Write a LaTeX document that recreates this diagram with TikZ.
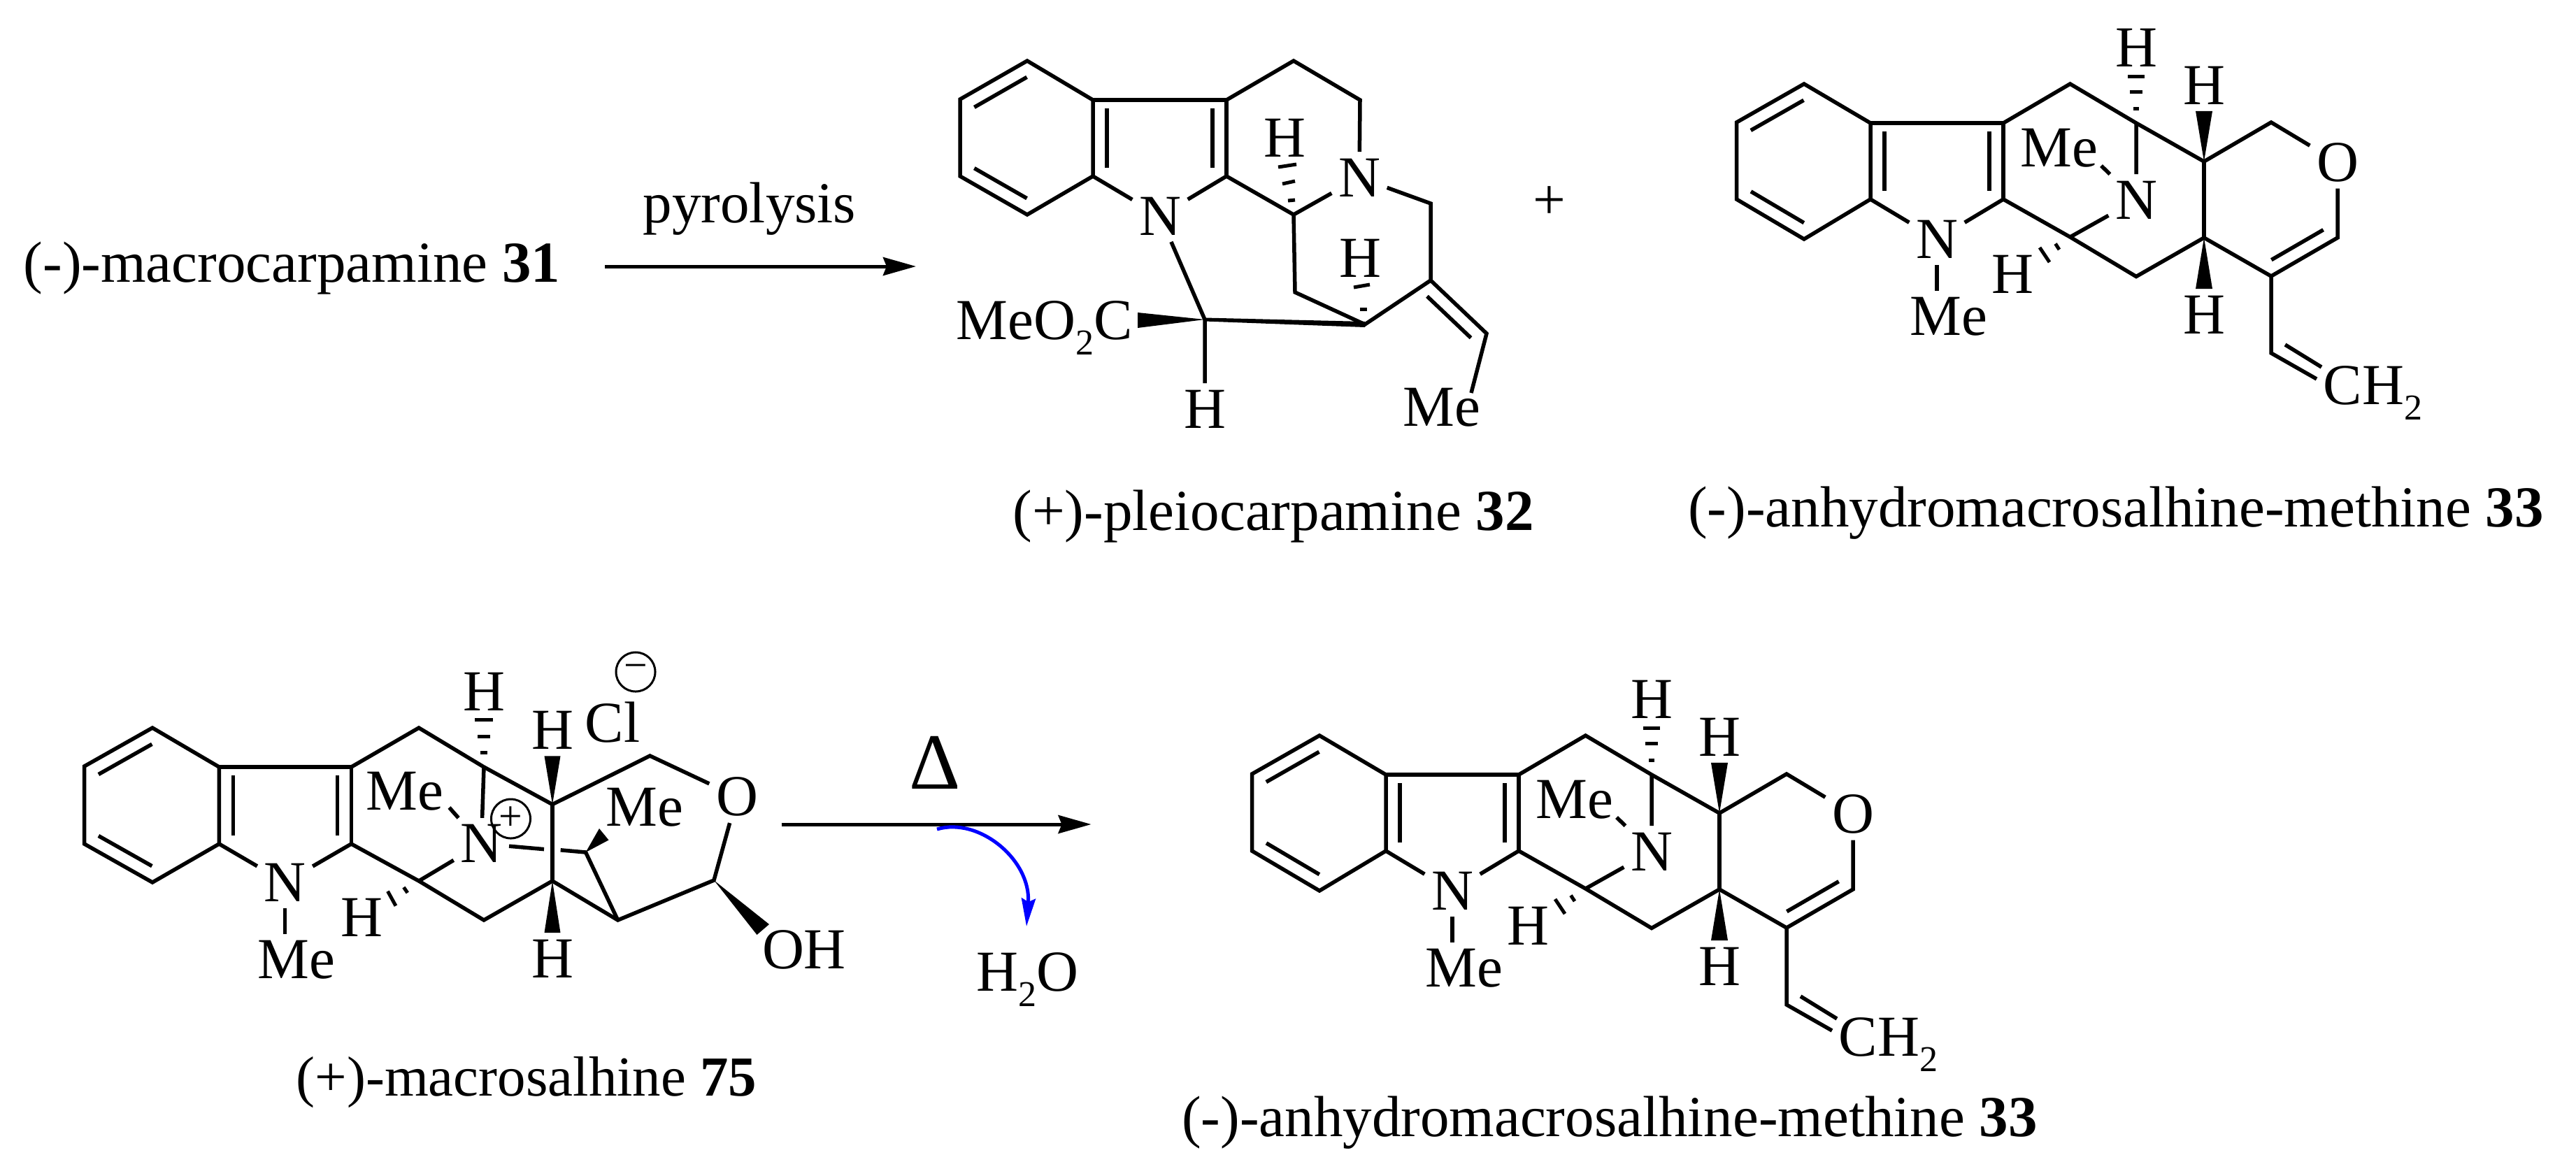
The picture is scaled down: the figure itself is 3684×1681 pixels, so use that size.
\documentclass[tikz,border=0pt]{standalone}
\usepackage{fontspec}
\setmainfont{Liberation Serif}
\usetikzlibrary{calc,arrows.meta}

\newcommand{\subtwo}{\raisebox{-0.27em}{\fontsize{14.8pt}{14.8pt}\selectfont 2}}
\newcommand{\dblbond}[2]{\draw[bond,shorten <=0.12cm,shorten >=0.12cm] ($(#1)!0.2cm!90:(#2)$) -- ($(#2)!0.2cm!-90:(#1)$);}

\tikzset{
    bond/.style={line width=0.055cm,line join=miter},
    hashbar/.style={line width=0.05cm},
    atom/.style={rectangle,inner sep=0.09cm},
    plaintext/.style={inner sep=0pt,anchor=base west},
    caption/.style={inner sep=0pt,anchor=base},
    charge/.style={draw,circle,inner sep=0pt,minimum size=0.56cm,line width=0.03cm,font=\fontsize{17pt}{17pt}\selectfont},
    reaction/.style={line width=0.05cm,-{Stealth[length=0.47cm,width=0.26cm,inset=0.05cm]}},
    methine/.pic={
        \foreach \n/\x/\y in {a/2580/120,b/2483.5/175,c/2483.5/285,d/2580/342,e/2675/285,f/2675/176,g/2865/176,h/2865/285,
            i/2960.5/120,j/3055/176,k/3152/231,l/3248/175,m/3343/340,n/3248/395,o/3152/340,p/3055/395.5,q/2960.5/339,
            v/3248/505,vEnd/3313/542,vIn/3268/493,vOut/3320/525,meEnd/3005/237}
            \coordinate (\n) at (\x,\y);
        \node[atom] (N1) at (2770,342) {N};
        \node[atom] (N2) at (3055,286) {N};
        \node[atom] (O1) at (3343,232) {O};
        \node[atom] (MeA) at (2787,453) {Me};
        \node[atom] (MeB) at (2945,212) {Me};
        \node[atom] (Hj) at (3055,68) {H};
        \node[atom] (Hk) at (3152,122) {H};
        \node[atom] (Ho) at (3152,450) {H};
        \node[atom] (Hq) at (2878,392) {H};
        \node[plaintext] (vinyl) at (3322,578) {CH\subtwo};

        \draw[bond] (a) -- (b) -- (c) -- (d) -- (e) -- (f) -- cycle;
        \draw[bond] (f) -- (g) -- (h);
        \draw[bond] (e) -- (N1) -- (h);
        \draw[bond] (g) -- (i) -- (j) -- (k) -- (l) -- (O1) -- (m) -- (n) -- (o) -- (p) -- (q) -- (h);
        \draw[bond] (k) -- (o);
        \draw[bond] (j) -- (N2) -- (q);
        \draw[bond] (N2) -- (meEnd);
        \draw[bond] (N1) -- (N1 |- MeA.north);
        \draw[bond] (n) -- (v) -- (vEnd);
        \draw[bond] (vIn) -- (vOut);

        \dblbond{a}{b}
        \dblbond{c}{d}
        \dblbond{f}{e}
        \dblbond{h}{g}
        \dblbond{n}{m}

        \fill (k) -- ([xshift=0.12cm]Hk.south) -- ([xshift=-0.12cm]Hk.south) -- cycle;
        \fill (o) -- ([xshift=0.12cm]Ho.north) -- ([xshift=-0.12cm]Ho.north) -- cycle;
        \foreach \y/\w in {155/4,131/9,109/12}
            \draw[hashbar] (3055-\w,\y) -- (3055+\w,\y);
        \draw[hashbar] (2917,354) -- (2931,375);
        \draw[hashbar] (2939.5,348.6) -- (2945,357);
    }
}

\begin{document}
\begin{tikzpicture}[x=0.01cm,y=-0.01cm,every node/.style={font=\fontsize{23.6pt}{28pt}\selectfont}]
    \useasboundingbox (0,0) rectangle (3684,1681);

    \node[caption] (macrocarpamine) at (417.5,403) {(-)-macrocarpamine \textbf{31}};
    \node[caption] (pyrolysis) at (1072,318) {pyrolysis};
    \coordinate (arrowAstart) at (865,381);
    \coordinate (arrowAend) at (1310,381);
    \draw[reaction] (arrowAstart) -- (arrowAend);

    \foreach \n/\x/\y in {a/1469/87,b/1373/142,c/1373/252,d/1469/307,e/1563/252,f/1563/143,g/1754/143,h/1754/252,
        i/1850/87,j/1945/143,k/1850/307,l/2046/291,m/2046/401,n/1952/464,o/1852/418,p/2126/477,q/1723/457,pEnd/2104/562}
        \coordinate (\n) at (\x,\y);
    \node[atom] (Nleft) at (1659,309) {N};
    \node[atom] (Nright) at (1944,254) {N};
    \node[atom] (Hk) at (1837,197) {H};
    \node[atom] (Hn) at (1945,369) {H};
    \node[atom] (Hq) at (1723,585) {H};
    \node[atom] (Meethyl) at (2062,583) {Me};
    \node[plaintext] (ester) at (1367,485) {MeO\subtwo C};
    \node[anchor=center] (plus) at (2216,290) {+};
    \node[caption] (pleiocarpamine) at (1821,758) {(+)-pleiocarpamine \textbf{32}};

    \draw[bond] (a) -- (b) -- (c) -- (d) -- (e) -- (f) -- cycle;
    \draw[bond] (f) -- (g) -- (h);
    \draw[bond] (e) -- (Nleft) -- (h);
    \draw[bond] (h) -- (k) -- (o) -- (n) -- (m) -- (l) -- (Nright) -- (j) -- (i) -- (g);
    \draw[bond] (k) -- (Nright);
    \draw[bond] (Nleft) -- (q) -- (Hq);
    \draw[bond] (m) -- (p) -- (pEnd);
    \dblbond{a}{b}
    \dblbond{c}{d}
    \dblbond{f}{e}
    \dblbond{h}{g}
    \dblbond{p}{m}
    \fill ([yshift=0.025cm]q) -- ([yshift=0.04cm]n) -- ([yshift=-0.04cm]n) -- ([yshift=-0.025cm]q) -- cycle;
    \fill (q) -- (1627,447) -- (1627,469) -- cycle;
    \draw[hashbar] (1842,287) -- (1852,286);
    \draw[hashbar] (1834,263) -- (1852,259);
    \draw[hashbar] (1828,239) -- (1854,235);
    \draw[hashbar] (1945,442) -- (1955,442);
    \draw[hashbar] (1936,411) -- (1959,407);

    \pic (upper) at (0,0) {methine};
    \node[caption] (methineUpper) at (3026,753) {(-)-anhydromacrosalhine-methine \textbf{33}};

    \foreach \n/\x/\y in {a/218/1041,b/120.6/1096,c/120.6/1207,d/218/1262,e/313.4/1207,f/313.4/1097,g/502.4/1097,h/502.4/1207,
        i/599/1041,j/692/1097,k/790/1150.5,l/929.5/1081,o/790/1260,p/692/1316,q/599/1260,r/1021/1259,s/883.6/1316,t/837.6/1219,
        meEnd/642.5/1155,gapA/778/1214.6,gapB/801.7/1215.8}
        \coordinate (\n) at (\x,\y);
    \node[atom] (N1) at (407.5,1262) {N};
    \node[atom] (N2) at (688.4,1206.7) {N};
    \node[atom] (O1) at (1054,1139.5) {O};
    \node[atom] (MeA) at (424,1373) {Me};
    \node[atom] (MeB) at (579,1131.5) {Me};
    \node[atom] (MeC) at (922,1155) {Me};
    \node[atom] (Hj) at (692,989) {H};
    \node[atom] (Hk) at (790,1044.5) {H};
    \node[atom] (Ho) at (790,1371) {H};
    \node[atom] (Hq) at (517.7,1312) {H};
    \node[atom] (OH) at (1150,1358) {OH};
    \node[atom] (Cl) at (876,1033) {Cl};
    \node[charge] (plusN) at (730.5,1171) {+};
    \node[charge] (minusCl) at (909,961) {−};
    \node[caption,font=\fontsize{23pt}{28pt}\selectfont] (macrosalhine) at (753,1567) {(+)-macrosalhine \textbf{75}};

    \draw[bond] (a) -- (b) -- (c) -- (d) -- (e) -- (f) -- cycle;
    \draw[bond] (f) -- (g) -- (h);
    \draw[bond] (e) -- (N1) -- (h);
    \draw[bond] (g) -- (i) -- (j) -- (k) -- (l) -- (O1) -- (r) -- (s) -- (o) -- (p) -- (q) -- (h);
    \draw[bond] (k) -- (o);
    \draw[bond] (j) -- (N2) -- (q);
    \draw[bond] (N2) -- (meEnd);
    \draw[bond] (N2) -- (gapA);
    \draw[bond] (gapB) -- (t) -- (s);
    \draw[bond] (N1) -- (N1 |- MeA.north);
    \dblbond{a}{b}
    \dblbond{c}{d}
    \dblbond{f}{e}
    \dblbond{h}{g}
    \fill (k) -- ([xshift=0.115cm]Hk.south) -- ([xshift=-0.115cm]Hk.south) -- cycle;
    \fill (o) -- ([xshift=0.115cm]Ho.north) -- ([xshift=-0.115cm]Ho.north) -- cycle;
    \fill (t) -- (857,1185) -- (870.5,1201.5) -- cycle;
    \fill (r) -- (1100,1322) -- (1082.5,1337) -- cycle;
    \foreach \y/\w in {1076/5,1053.6/9,1029/13}
        \draw[hashbar] (692-\w,\y) -- (692+\w,\y);
    \draw[hashbar] (554.5,1274.7) -- (566,1295.6);
    \draw[hashbar] (577.4,1269) -- (582.8,1277);

    \node[font=\fontsize{32.4pt}{36pt}\selectfont,caption] (heat) at (1337.5,1128) {Δ};
    \coordinate (arrowBstart) at (1117.5,1179);
    \coordinate (arrowBend) at (1560.5,1179);
    \draw[reaction] (arrowBstart) -- (arrowBend);
    \node[plaintext] (water) at (1396,1417) {H\subtwo O};
    \coordinate (lossStart) at (1340,1186);
    \coordinate (lossEnd) at (1468,1325);
    \draw[line width=0.05cm,blue,-{Stealth[length=0.4cm,width=0.2cm,inset=0.05cm]}] (lossStart) .. controls (1400,1168) and (1475,1230) .. (lossEnd);

    \pic (lower) at (-693,932) {methine};
    \node[caption] (methineLower) at (2302,1625) {(-)-anhydromacrosalhine-methine \textbf{33}};
\end{tikzpicture}
\end{document}
